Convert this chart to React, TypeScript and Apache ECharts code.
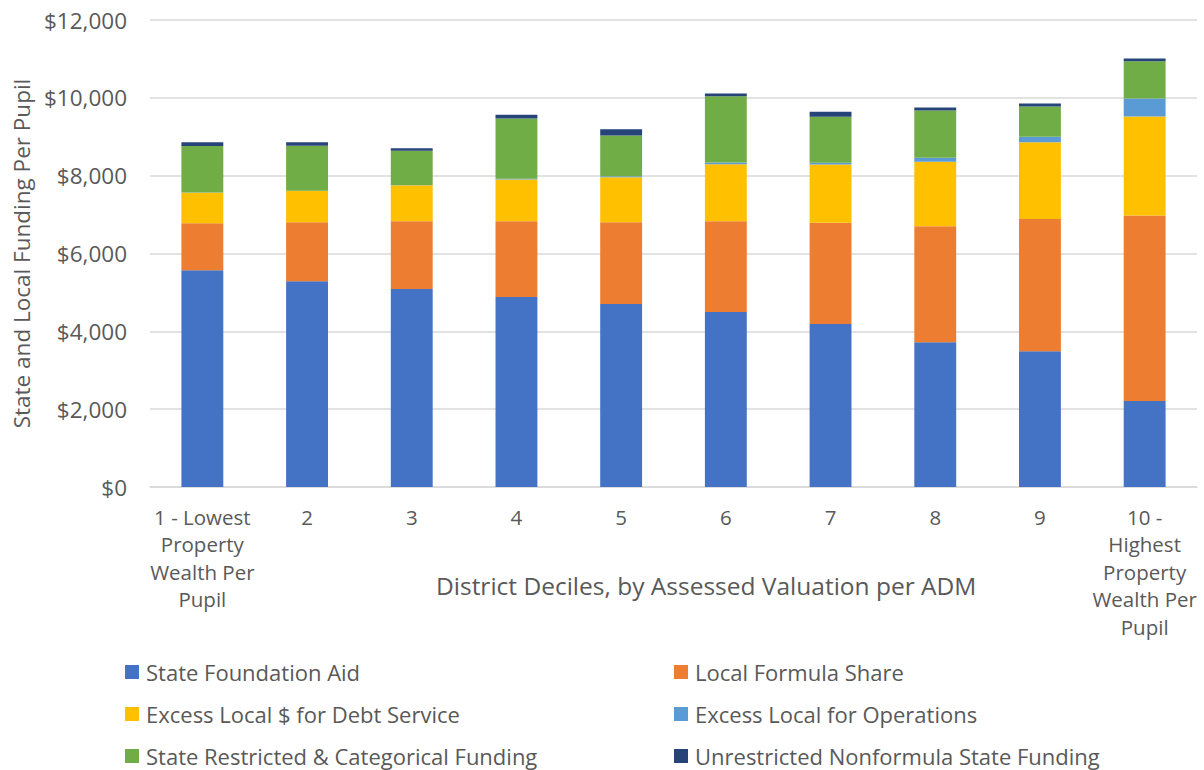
import React, { useEffect, useRef } from "react";
import * as echarts from "echarts";

const categories = [
  "1 - Lowest\nProperty\nWealth Per\nPupil",
  "2",
  "3",
  "4",
  "5",
  "6",
  "7",
  "8",
  "9",
  "10 -\nHighest\nProperty\nWealth Per\nPupil",
];

const stateFoundationAid = [5570, 5285, 5090, 4884, 4704, 4499, 4190, 3717, 3486, 2211];
const localFormulaShare = [1210, 1517, 1738, 1944, 2098, 2329, 2597, 2982, 3403, 4763];
const excessDebtService = [780, 807, 925, 1072, 1160, 1465, 1498, 1656, 1970, 2545];
const excessOperations = [10, 5, 5, 20, 25, 44, 44, 103, 138, 463];
const stateRestricted = [1190, 1157, 885, 1548, 1046, 1704, 1183, 1216, 779, 959];
const unrestrictedNonformula = [100, 85, 60, 95, 162, 70, 128, 77, 77, 69];

const seriesNames = [
  "State Foundation Aid",
  "Local Formula Share",
  "Excess Local $ for Debt Service",
  "Excess Local for Operations",
  "State Restricted & Categorical Funding",
  "Unrestricted Nonformula State Funding",
];
const seriesData = [
  stateFoundationAid,
  localFormulaShare,
  excessDebtService,
  excessOperations,
  stateRestricted,
  unrestrictedNonformula,
];
const colors = ["#4472C4", "#ED7D31", "#FFC000", "#5B9BD5", "#70AD47", "#264478"];

const yTicks = { min: 0, max: 12000, interval: 2000 };

const FONT = "'Open Sans', 'Noto Sans', sans-serif";
const TEXT = "#595959";

export default function App() {
  const ref = useRef<HTMLDivElement>(null);
  useEffect(() => {
    if (!ref.current) return;
    const chart = echarts.init(ref.current, undefined, { renderer: "svg" });
    const legendPos = [
      { left: 125, top: 672 },
      { left: 674, top: 672 },
      { left: 125, top: 714 },
      { left: 674, top: 714 },
      { left: 125, top: 756 },
      { left: 674, top: 756 },
    ];
    chart.setOption({
      animation: false,
      backgroundColor: "#ffffff",
      textStyle: { fontFamily: FONT },
      grid: { left: 150, right: 7, top: 20, bottom: 283, containLabel: false },
      legend: seriesNames.map((n, i) => ({
        data: [n],
        left: legendPos[i].left,
        top: legendPos[i].top - 11,
        padding: 0,
        itemWidth: 14,
        itemHeight: 14,
        icon: "rect",
        selectedMode: false,
        textStyle: { fontFamily: FONT, fontSize: 22, color: TEXT, padding: [0, 0, 0, 2] },
      })),
      xAxis: {
        type: "category",
        data: categories,
        axisLine: { show: true, lineStyle: { color: "#d9d9d9", width: 1.5 } },
        axisTick: { show: false },
        axisLabel: {
          interval: 0,
          margin: 16,
          fontFamily: FONT,
          fontSize: 20.5,
          color: TEXT,
          lineHeight: 27.5,
          verticalAlign: "top",
        },
      },
      yAxis: {
        type: "value",
        min: yTicks.min,
        max: yTicks.max,
        interval: yTicks.interval,
        name: "State and Local Funding Per Pupil",
        nameLocation: "middle",
        nameGap: 116,
        nameTextStyle: { fontFamily: FONT, fontSize: 22.5, color: TEXT },
        axisLine: { show: false },
        axisTick: { show: false },
        splitLine: { lineStyle: { color: "#d9d9d9", width: 1.5 } },
        axisLabel: {
          margin: 23,
          fontFamily: FONT,
          fontSize: 22.5,
          color: TEXT,
          formatter: (v: number) => "$" + v.toLocaleString("en-US"),
        },
      },
      graphic: [
        {
          type: "text",
          left: 436,
          top: 573,
          style: {
            text: "District Deciles, by Assessed Valuation per ADM",
            fontFamily: FONT,
            fontSize: 24.5,
            fill: TEXT,
          },
        },
      ],
      series: seriesNames.map((n, i) => ({
        name: n,
        type: "bar",
        stack: "total",
        barWidth: "40%",
        data: seriesData[i],
        itemStyle: { color: colors[i] },
      })),
    });
    return () => chart.dispose();
  }, []);
  return <div ref={ref} style={{ width: 1204, height: 770, position: "absolute", left: 0, top: 0 }} />;
}
